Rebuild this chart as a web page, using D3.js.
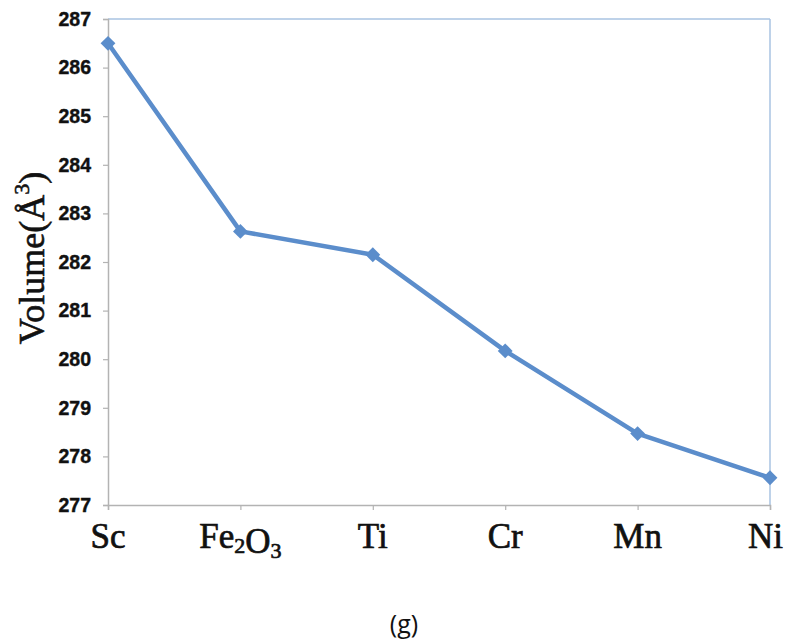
<!DOCTYPE html>
<html>
<head>
<meta charset="utf-8">
<script src="https://cdn.jsdelivr.net/npm/d3@7"></script>
<style>
  html, body { margin: 0; padding: 0; background: #fff; }
  svg { display: block; }
</style>
</head>
<body>
<script>
// Unit-cell volume for each dopant
const categories = ["Sc", "Fe2O3", "Ti", "Cr", "Mn", "Ni"];
const volumes = [286.5, 282.63, 282.15, 280.17, 278.47, 277.56];
const yTicks = [277, 278, 279, 280, 281, 282, 283, 284, 285, 286, 287];

const W = 785, H = 641;
const plotLeft = 108, plotRight = 770, plotTop = 19, plotBottom = 505;
const lineColor = "#5b8dcb";

const svg = d3.select("body").append("svg")
  .attr("width", W).attr("height", H);

const x = d3.scalePoint().domain(categories).range([plotLeft, plotRight]);
const y = d3.scaleLinear().domain([277, 287]).range([plotBottom, plotTop]);

// Frame: top and right edges in light blue
svg.append("line")
  .attr("x1", plotLeft).attr("x2", plotRight).attr("y1", plotTop).attr("y2", plotTop)
  .attr("stroke", "#a9c3e2").attr("stroke-width", 1.5);
svg.append("line")
  .attr("x1", plotRight).attr("x2", plotRight).attr("y1", plotTop).attr("y2", plotBottom)
  .attr("stroke", "#a9c3e2").attr("stroke-width", 1.5);

// Y axis
const yAxis = svg.append("g")
  .attr("transform", `translate(${plotLeft},0)`)
  .call(d3.axisLeft(y).tickValues(yTicks).tickSize(5).tickPadding(12).tickFormat(d3.format("d")));
yAxis.select(".domain").attr("stroke", "#b3b3b3").attr("stroke-width", 1.5);
yAxis.selectAll(".tick line").attr("stroke", "#b3b3b3").attr("stroke-width", 1.2);
yAxis.selectAll(".tick text")
  .attr("fill", "#111")
  .attr("stroke", "#111").attr("stroke-width", 0.4)
  .style("font-family", "'Liberation Sans', Arial, sans-serif")
  .style("font-weight", "bold")
  .style("font-size", "19.5px");

// X axis
const xAxis = svg.append("g")
  .attr("transform", `translate(0,${plotBottom})`)
  .call(d3.axisBottom(x).tickSize(5).tickFormat(""));
xAxis.select(".domain").attr("stroke", "#b3b3b3").attr("stroke-width", 1.5);
xAxis.selectAll(".tick line").attr("stroke", "#b3b3b3").attr("stroke-width", 1.2);

// Category labels (serif, with chemical subscripts), kept inside the page
const labels = svg.append("g")
  .style("font-family", "'Liberation Serif', 'Times New Roman', serif")
  .style("font-size", "35px")
  .attr("fill", "#111")
  .attr("stroke", "#111").attr("stroke-width", 0.7);
categories.forEach(c => {
  const t = labels.append("text")
    .attr("x", x(c)).attr("y", 548)
    .attr("text-anchor", "middle");
  const parts = c.match(/[A-Za-z]+|\d+/g);
  parts.forEach(p => {
    if (/^\d+$/.test(p)) {
      t.append("tspan").attr("font-size", "22px").attr("dy", 5).text(p);
      t.append("tspan").attr("font-size", "35px").attr("dy", -5).text("");
    } else {
      t.append("tspan").text(p);
    }
  });
  const half = t.node().getComputedTextLength() / 2;
  t.attr("x", Math.min(x(c), W - half - 2));
});

// Y axis title
const title = svg.append("text")
  .attr("transform", `translate(44,258) rotate(-90)`)
  .attr("text-anchor", "middle")
  .style("font-family", "'Liberation Serif', 'Times New Roman', serif")
  .style("font-size", "36px")
  .attr("fill", "#111")
  .attr("stroke", "#111").attr("stroke-width", 0.6);
title.append("tspan").text("Volume(Å");
title.append("tspan").attr("font-size", "22px").attr("dy", -15).text("3");
title.append("tspan").attr("dy", 15).text(")");

// Data line
const data = categories.map((c, i) => ({ c, v: volumes[i] }));
svg.append("path")
  .datum(data)
  .attr("fill", "none")
  .attr("stroke", lineColor)
  .attr("stroke-width", 4.5)
  .attr("stroke-linejoin", "round")
  .attr("d", d3.line().x(d => x(d.c)).y(d => y(d.v)));

// Diamond markers
svg.append("g").selectAll("path")
  .data(data)
  .join("path")
  .attr("transform", d => `translate(${x(d.c)},${y(d.v)}) rotate(45)`)
  .attr("d", d3.symbol().type(d3.symbolSquare).size(110))
  .attr("fill", lineColor);

// Panel caption
svg.append("text")
  .attr("x", 404).attr("y", 633)
  .attr("text-anchor", "middle")
  .style("font-family", "'Open Sans', 'Noto Sans', sans-serif")
  .style("font-size", "25px")
  .attr("fill", "#111")
  .text("(g)");
</script>
</body>
</html>
